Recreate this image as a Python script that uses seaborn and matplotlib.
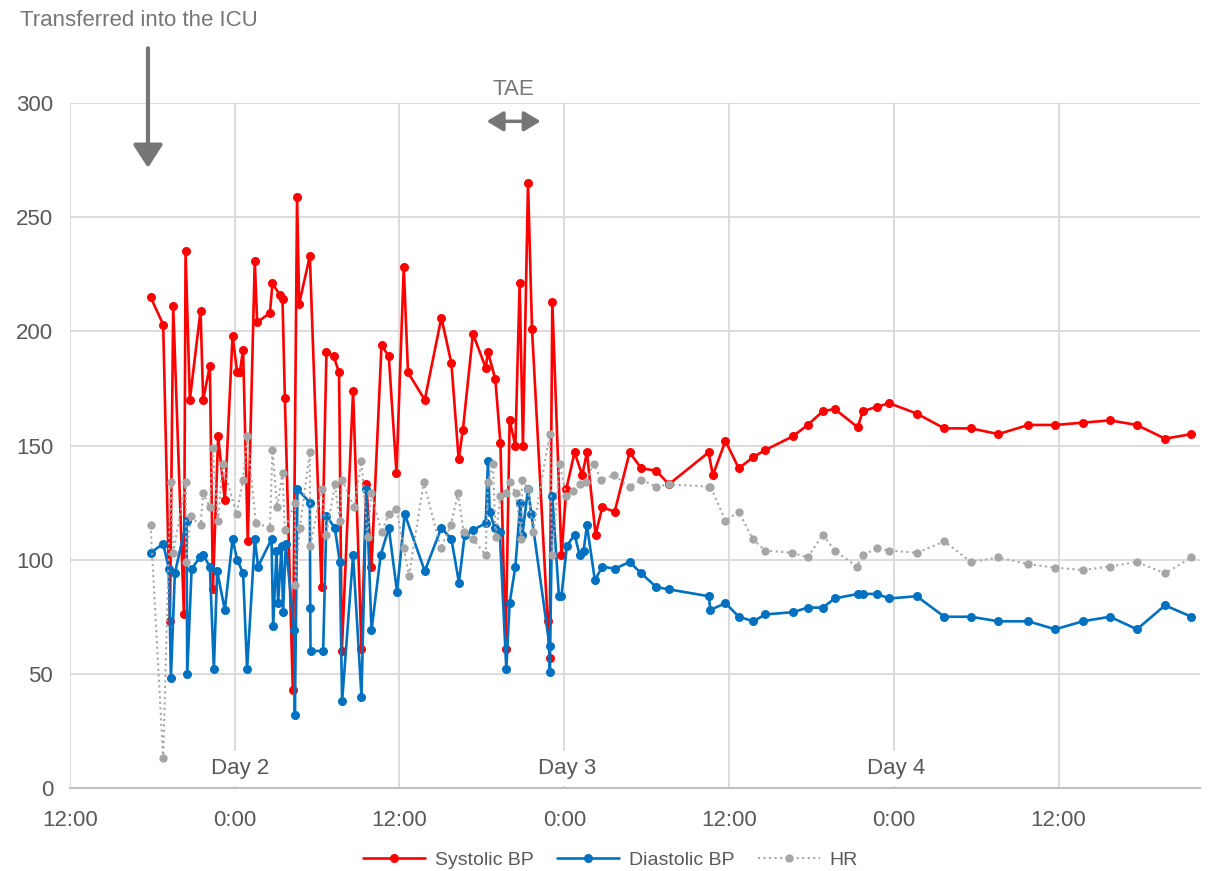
import matplotlib
matplotlib.use("Agg")
import matplotlib.pyplot as plt
import seaborn as sns

# hours after 12:00 on day 1
sys_hours = [5.87, 6.79, 7.28, 7.52, 8.30, 8.42, 8.73, 9.51, 9.70, 10.19, 10.41, 10.79, 11.28,
             11.84, 12.18, 12.37, 12.61, 12.95, 13.46, 13.63, 14.56, 14.75, 15.28, 15.48, 15.65,
             16.23, 16.54, 16.69, 17.47, 18.32, 18.68, 19.21, 19.60, 19.80, 20.62, 21.23, 21.59,
             21.96, 22.69, 23.22, 23.78, 24.31, 24.62, 25.84, 27.05, 27.78, 28.31, 28.62, 29.35,
             30.28, 30.44, 30.98, 31.35, 31.73, 32.02, 32.44, 32.75, 32.99, 33.36, 33.65, 34.79,
             34.93, 35.13, 35.79, 36.15, 36.75, 37.31, 37.65, 38.28, 38.77, 39.67, 40.76, 41.61,
             42.70, 43.62, 46.51, 46.82, 47.74, 48.71, 49.78, 50.63, 52.64, 53.73, 54.83, 55.70,
             57.37, 57.74, 58.78, 59.68, 61.67, 63.68, 65.63, 67.61, 69.80, 71.76, 73.75, 75.74,
             77.71, 79.75, 81.68]
sys_bp = [215, 203, 73, 211, 76, 235, 170, 209, 170, 185, 87, 154, 126,
          198, 182, 182, 192, 108, 231, 204, 208, 221, 216, 214, 171,
          43, 259, 212, 233, 88, 191, 189, 182, 60, 174, 61, 133,
          97, 194, 189, 138, 228, 182, 170, 206, 186, 144, 157, 199,
          184, 191, 179, 151, 61, 161, 150, 221, 150, 265, 201, 73,
          57, 213, 102, 131, 147, 137, 147, 111, 123, 121, 147, 140,
          139, 133, 147, 137, 152, 140, 145, 148, 154, 159, 165, 166,
          158, 165, 167, 168.5, 164, 157.5, 157.5, 155, 159, 159, 160, 161,
          159, 153, 155]

dia_hours = [5.87, 6.79, 7.21, 7.35, 7.64, 8.49, 8.54, 8.86, 9.46, 9.70, 10.19, 10.48, 10.72,
             11.28, 11.84, 12.18, 12.61, 12.90, 13.46, 13.70, 14.68, 14.80, 15.04, 15.16, 15.41,
             15.52, 15.72, 16.32, 16.38, 16.57, 17.47, 17.50, 17.52, 18.44, 18.68, 19.29, 19.65,
             19.82, 20.62, 21.23, 21.59, 21.96, 22.63, 23.22, 23.82, 24.38, 25.84, 27.05, 27.78,
             28.33, 28.75, 29.35, 30.28, 30.44, 30.57, 30.93, 31.30, 31.78, 32.02, 32.44, 32.80,
             32.95, 33.36, 33.60, 34.93, 34.95, 35.13, 35.61, 35.79, 36.19, 36.75, 37.12, 37.41,
             37.65, 38.23, 38.77, 39.67, 40.76, 41.61, 42.70, 43.62, 46.51, 46.65, 47.74, 48.71,
             49.78, 50.63, 52.64, 53.73, 54.83, 55.70, 57.37, 57.74, 58.78, 59.68, 61.67, 63.68,
             65.63, 67.61, 69.80, 71.76, 73.75, 75.74, 77.71, 79.75, 81.68]
dia_bp = [103, 107, 96, 48, 94, 117, 50, 96, 101, 102, 97, 52, 95,
          78, 109, 100, 94, 52, 109, 97, 109, 71, 104, 81, 106,
          77, 107, 69, 32, 131, 125, 79, 60, 60, 119, 114, 99,
          38, 102, 40, 131, 69, 102, 114, 86, 120, 95, 114, 109,
          90, 111, 113, 116, 143, 121, 114, 112, 52, 81, 97, 125,
          111, 131, 120, 62, 51, 128, 84, 84, 106, 111, 102, 104,
          115, 91, 97, 96, 99, 94, 88, 87, 84, 78, 81, 75,
          73, 76, 77, 79, 79, 83, 85, 85, 85, 83, 84, 75,
          75, 73, 73, 69.5, 73, 75, 69.5, 80, 75]

hr_hours = [5.87, 6.79, 7.33, 7.52, 8.44, 8.46, 8.78, 9.51, 9.70, 10.19, 10.39, 10.79, 11.11,
            12.13, 12.61, 12.90, 13.54, 14.56, 14.75, 15.09, 15.48, 15.65, 16.38, 16.40, 16.74,
            17.47, 17.50, 18.32, 18.68, 19.29, 19.65, 19.82, 20.69, 21.23, 21.67, 21.96, 22.69,
            23.22, 23.78, 24.31, 24.69, 25.76, 27.00, 27.73, 28.26, 28.68, 29.35, 30.28, 30.44,
            30.81, 31.00, 31.35, 31.73, 32.07, 32.46, 32.87, 32.92, 33.36, 33.72, 34.93, 35.13,
            35.66, 36.15, 36.63, 37.12, 37.55, 38.14, 38.70, 39.59, 40.76, 41.61, 42.70, 43.62,
            46.51, 46.65, 47.74, 48.71, 49.73, 50.63, 52.60, 53.73, 54.83, 55.70, 57.30, 57.74,
            58.78, 59.68, 61.67, 63.68, 65.63, 67.61, 69.80, 71.76, 73.75, 75.74, 77.71, 79.75,
            81.68]
hr = [115, 13, 134, 103, 134, 99, 119, 115, 129, 123, 149, 117, 142,
      120, 135, 154, 116, 114, 148, 123, 138, 113, 125, 89, 114,
      147, 106, 131, 111, 133, 117, 135, 123, 143, 110, 129, 112,
      120, 122, 105, 93, 134, 105, 115, 129, 112, 109, 102, 134,
      142, 110, 128, 129, 134, 129, 109, 135, 131, 112, 155, 102,
      142, 128, 130, 133, 134, 142, 135, 137, 132, 135, 132, 133,
      132, 132, 117, 121, 109, 104, 103, 101, 111, 104, 97, 102,
      105, 104, 103, 108, 99, 101, 98, 96.5, 95.5, 97, 99, 94,
      101]

tick_hours = [0, 12, 24, 36, 48, 60, 72]
tick_labels = ["12:00", "0:00", "12:00", "0:00", "12:00", "0:00", "12:00"]
day_hours = [12.4, 36.2, 60.2]
day_labels = ["Day 2", "Day 3", "Day 4"]

sns.set_theme(style="whitegrid")
plt.rcParams["font.family"] = ["Liberation Sans", "DejaVu Sans"]
txt = "#595959"
grid = "#D9D9D9"

fig = plt.figure(figsize=(12.21, 8.71), dpi=100)
ax = fig.add_axes([0.0573, 0.0953, 0.9255, 0.7864])

common = dict(ax=ax, estimator=None, sort=False, marker="o", markeredgewidth=0)
sns.lineplot(x=sys_hours, y=sys_bp, color="#FF0000", linewidth=1.9, markersize=6.5,
             markeredgecolor="#FF0000", label="Systolic BP", **common)
sns.lineplot(x=dia_hours, y=dia_bp, color="#0070C0", linewidth=1.9, markersize=6.5,
             markeredgecolor="#0070C0", label="Diastolic BP", **common)
sns.lineplot(x=hr_hours, y=hr, color="#A6A6A6", linewidth=1.5, linestyle=":",
             markersize=6, markeredgecolor="#A6A6A6", label="HR", **common)

ax.set_xlim(0, 82.3)
ax.set_ylim(0, 300)
ax.set_xticks(tick_hours)
ax.set_xticklabels(tick_labels)
ax.set_yticks(range(0, 301, 50))
ax.tick_params(axis="both", length=0, labelsize=16, colors=txt)
ax.tick_params(axis="x", pad=16)
ax.tick_params(axis="y", pad=12)
ax.grid(True, color=grid, linewidth=1.3)
ax.set_axisbelow(True)
for side in ["top", "right", "left"]:
    ax.spines[side].set_visible(False)
ax.spines["bottom"].set_color("#BFBFBF")
ax.spines["bottom"].set_linewidth(1.5)
ax.spines["bottom"].set_zorder(5)
ax.set_xlabel("")
ax.set_ylabel("")

for h, lab in zip(day_hours, day_labels):
    ax.text(h, 8.5, lab, ha="center", va="center", fontsize=16, color=txt,
            bbox=dict(facecolor="white", edgecolor="none", pad=5), zorder=4)

# annotations above the plot
ax.annotate("", xy=(5.68, 271.6), xytext=(5.68, 324), annotation_clip=False,
            arrowprops=dict(arrowstyle="-|>,head_length=0.7,head_width=0.45",
                            mutation_scale=20, lw=3, color="#767676",
                            shrinkA=0, shrinkB=0))
ax.text(5.0, 336, "Transferred into the ICU", ha="center", va="center",
        fontsize=16, color="#767676", clip_on=False)
ax.annotate("", xy=(30.35, 292), xytext=(34.28, 292), annotation_clip=False,
            arrowprops=dict(arrowstyle="<|-|>,head_length=0.5,head_width=0.3",
                            mutation_scale=20, lw=2.5, color="#767676",
                            shrinkA=0, shrinkB=0))
ax.text(32.3, 306, "TAE", ha="center", va="center", fontsize=16,
        color="#767676", clip_on=False)

handles, labels = ax.get_legend_handles_labels()
ax.get_legend().remove()
fig.legend(handles, labels, loc="lower center", bbox_to_anchor=(0.5, -0.018),
           ncol=3, frameon=False, fontsize=14, handlelength=3.2,
           columnspacing=1.2, handletextpad=0.5, labelcolor=txt)

fig.savefig("out.png", dpi=100)
